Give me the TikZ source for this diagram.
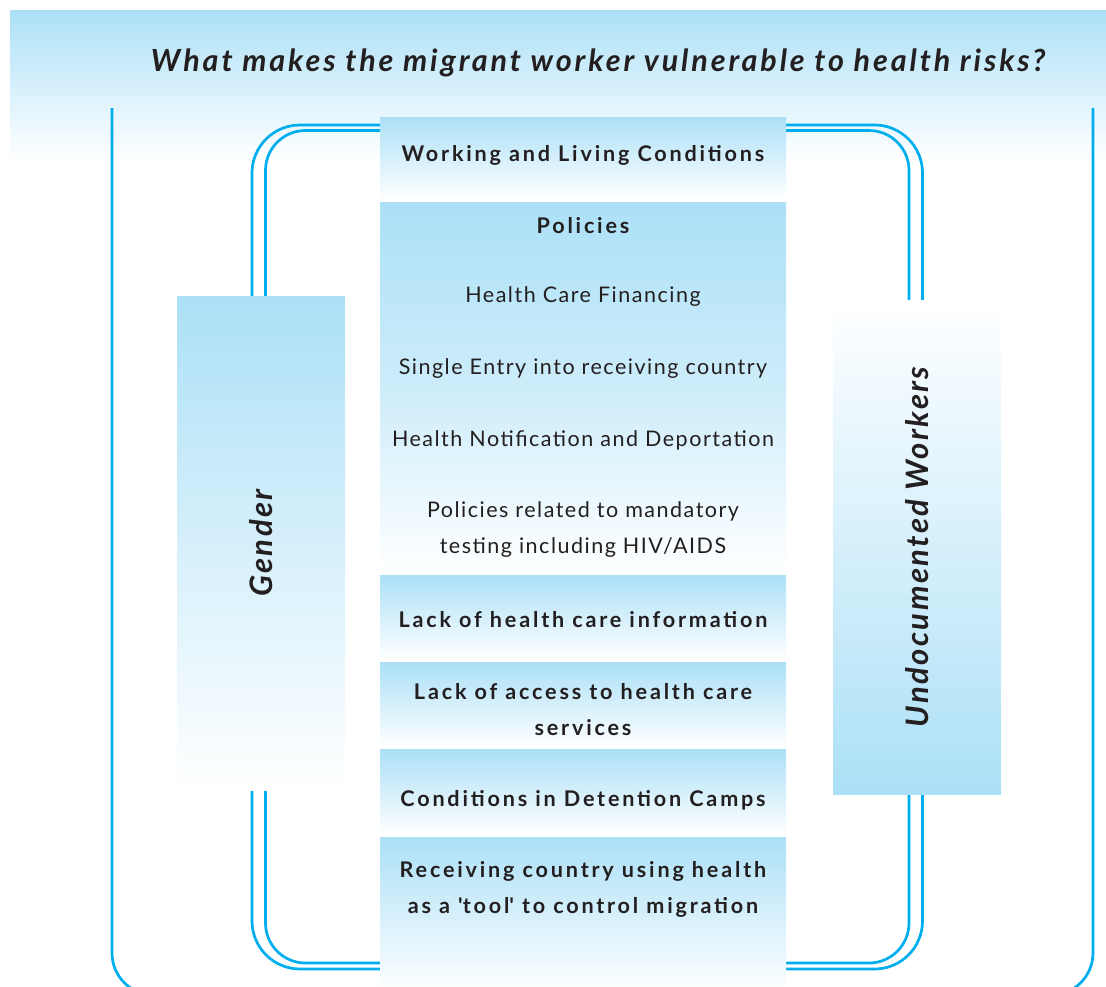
\documentclass[tikz,border=0pt]{standalone}
\usepackage{fontspec}
\setmainfont{Lato}
\newfontfamily\headfont[LetterSpace=13]{Lato}
\newfontfamily\itemfont[LetterSpace=7]{Lato}
\newfontfamily\tagfont[LetterSpace=8]{Lato}
\newfontfamily\askfont[LetterSpace=9.5]{Lato}
\usetikzlibrary{positioning}

\definecolor{skyfill}{RGB}{172,224,247}
\definecolor{lineblue}{RGB}{0,174,239}
\definecolor{inkgrey}{RGB}{35,31,32}

\tikzset{
	frame/.style={draw=lineblue, line width=2.7pt},
	strip/.style={rectangle, inner sep=0pt, minimum width=406pt, top color=skyfill, bottom color=white},
	side/.style={rectangle, inner sep=0pt, minimum width=168pt, minimum height=494pt},
	head/.style={text=inkgrey, font=\headfont\bfseries\fontsize{21.6}{36}\selectfont, align=center},
	item/.style={text=inkgrey, font=\itemfont\fontsize{21.5}{36}\selectfont, align=center},
	tag/.style={text=inkgrey, font=\tagfont\bfseries\itshape\fontsize{31}{31}\selectfont, rotate=90}
}

\begin{document}
\begin{tikzpicture}[x=1pt, y=-1pt]
	\useasboundingbox (0,0) rectangle (1106,986);

	\shade [top color=skyfill, bottom color=white] (10,10) rectangle (1106,160);
	\node [text=inkgrey, font=\askfont\bfseries\itshape\fontsize{30.5}{30}\selectfont] (question) at (598,63) {What makes the migrant worker vulnerable to health risks?};

	\draw [frame, rounded corners=42pt] (112,108) -- (112,995) -- (1093,995) -- (1093,108);
	\draw [frame, rounded corners=48pt] (252,125) rectangle (922.5,969);
	\draw [frame, rounded corners=40pt] (265.5,130.5) rectangle (909,963);

	\node [side, top color=skyfill, bottom color=white] (gender) at (261,543) {};
	\node [tag] (gendertext) at (gender.center) {Gender};
	\node [side, top color=white, bottom color=skyfill] (undoc) at (917,547) {};
	\node [tag] (undoctext) at (undoc.center) {Undocumented Workers};

	\node [strip, minimum height=83pt] (work) at (583,158.5) {};
	\node [strip, minimum height=371pt, below=2pt of work, middle color=skyfill!60] (policy) {};
	\node [strip, minimum height=84pt, below=2pt of policy] (info) {};
	\node [strip, minimum height=85pt, below=2pt of info] (access) {};
	\node [strip, minimum height=85pt, below=2pt of access] (camps) {};
	\node [strip, minimum height=155pt, below=2pt of camps] (control) {};

	\node [head] (worktext) at (583,155) {Working and Living Conditions};
	\node [head] (policyhead) at (583,226) {Policies};
	\node [item] (finance) at (583,297) {Health Care Financing};
	\node [item] (entry) at (583,369) {Single Entry into receiving country};
	\node [item] (deport) at (583,440) {Health Notification and Deportation};
	\node [item] (testing) at (583,530) {Policies related to mandatory\\testing including HIV/AIDS};
	\node [head] (infotext) at (583,620) {Lack of health care information};
	\node [head] (accesstext) at (583,710) {Lack of access to health care\\services};
	\node [head] (campstext) at (583,800) {Conditions in Detention Camps};
	\node [head] (controltext) at (583,889) {Receiving country using health\\as a \textquotesingle tool\textquotesingle{} to control migration};
\end{tikzpicture}
\end{document}
